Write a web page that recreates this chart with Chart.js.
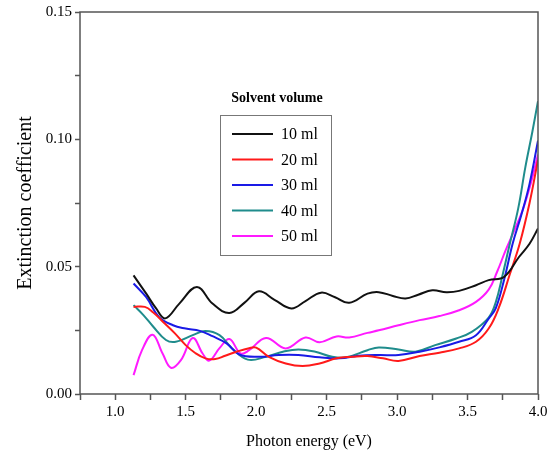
<!DOCTYPE html>
<html lang="en">
<head>
<meta charset="UTF-8">
<title>Extinction coefficient vs photon energy</title>
<script src="https://cdn.jsdelivr.net/npm/chart.js"></script>
<style>
  body { margin: 0; background: #fff; }
  #wrap { width: 556px; height: 455px; }
</style>
</head>
<body>
<div id="wrap"><canvas id="extChart"></canvas></div>
<script>
// series labels and colours
const seriesNames = ['10 ml', '20 ml', '30 ml', '40 ml', '50 ml'];
const seriesColors = ['#111111', '#ff1a1a', '#1a1ae6', '#1f8c8c', '#ff1aff'];

// 10 ml
const x10 = [1.13, 1.22, 1.29, 1.355, 1.455, 1.58, 1.69, 1.81, 1.92, 2.02, 2.13, 2.25, 2.35, 2.46, 2.56, 2.66, 2.79, 2.87, 2.97, 3.06, 3.15, 3.25, 3.35, 3.44, 3.56, 3.65, 3.76, 3.865, 3.94, 4.0];
const y10 = [0.0466, 0.0394, 0.0336, 0.0297, 0.0355, 0.042, 0.0355, 0.0318, 0.036, 0.0403, 0.037, 0.0336, 0.0365, 0.0398, 0.038, 0.0358, 0.0394, 0.040, 0.0385, 0.0375, 0.039, 0.0407, 0.040, 0.0405, 0.0427, 0.0447, 0.046, 0.0538, 0.059, 0.065];

// 20 ml
const x20 = [1.13, 1.21, 1.27, 1.34, 1.42, 1.5, 1.57, 1.64, 1.71, 1.78, 1.86, 1.95, 2.0, 2.09, 2.21, 2.33, 2.45, 2.57, 2.68, 2.79, 2.9, 3.01, 3.16, 3.3, 3.44, 3.56, 3.65, 3.72, 3.8, 3.87, 3.94, 4.0];
const y20 = [0.0342, 0.0342, 0.032, 0.0283, 0.024, 0.0192, 0.016, 0.014, 0.0137, 0.015, 0.0166, 0.018, 0.0182, 0.0146, 0.012, 0.011, 0.012, 0.014, 0.0146, 0.0149, 0.014, 0.013, 0.0149, 0.0162, 0.0179, 0.0205, 0.0257, 0.0336, 0.047, 0.059, 0.075, 0.092];

// 30 ml
const x30 = [1.13, 1.22, 1.31, 1.41, 1.5, 1.6, 1.69, 1.79, 1.88, 2.02, 2.16, 2.3, 2.45, 2.59, 2.73, 2.87, 3.01, 3.16, 3.3, 3.44, 3.56, 3.65, 3.7, 3.76, 3.82, 3.88, 3.94, 4.0];
const y30 = [0.0434, 0.038, 0.0303, 0.027, 0.0257, 0.0248, 0.0227, 0.0199, 0.0155, 0.0146, 0.0153, 0.0153, 0.0144, 0.014, 0.015, 0.0153, 0.0153, 0.0166, 0.0183, 0.0205, 0.0231, 0.0296, 0.0336, 0.045, 0.059, 0.07, 0.0825, 0.0995];

// 40 ml
const x40 = [1.13, 1.2, 1.27, 1.36, 1.43, 1.55, 1.64, 1.74, 1.83, 1.94, 2.07, 2.19, 2.3, 2.42, 2.54, 2.64, 2.79, 2.87, 3.01, 3.13, 3.27, 3.42, 3.53, 3.65, 3.7, 3.75, 3.8, 3.86, 3.91, 3.96, 4.0];
const y40 = [0.0349, 0.031, 0.0264, 0.0212, 0.0205, 0.0231, 0.0247, 0.0231, 0.0179, 0.0135, 0.0146, 0.0166, 0.0175, 0.0166, 0.0146, 0.0144, 0.0172, 0.0183, 0.0175, 0.0166, 0.0192, 0.0218, 0.0244, 0.03, 0.036, 0.047, 0.059, 0.073, 0.089, 0.103, 0.115];

// 50 ml
const x50 = [1.13, 1.19, 1.265, 1.336, 1.395, 1.466, 1.55, 1.62, 1.667, 1.74, 1.81, 1.89, 1.95, 2.07, 2.21, 2.35, 2.45, 2.57, 2.66, 2.79, 2.87, 3.01, 3.16, 3.3, 3.44, 3.56, 3.65, 3.71, 3.77, 3.83, 3.89, 3.95, 4.0];
const y50 = [0.0074, 0.0172, 0.0233, 0.0159, 0.0103, 0.0133, 0.022, 0.0159, 0.0131, 0.018, 0.0216, 0.0159, 0.0172, 0.022, 0.0179, 0.0222, 0.0203, 0.0226, 0.0222, 0.024, 0.025, 0.027, 0.029, 0.0306, 0.0329, 0.0362, 0.041, 0.048, 0.0564, 0.064, 0.072, 0.083, 0.094];

const xs = [x10, x20, x30, x40, x50];
const ys = [y10, y20, y30, y40, y50];

const serif = "'Liberation Serif', 'DejaVu Serif', serif";

// frame around the plot area
const framePlugin = {
    id: 'frame',
    afterDraw(chart) {
        const { ctx, chartArea: a } = chart;
        ctx.save();
        ctx.strokeStyle = '#555';
        ctx.lineWidth = 1.5;
        ctx.strokeRect(a.left, a.top, a.right - a.left, a.bottom - a.top);
        ctx.restore();
    }
};

// boxed legend inside the plot, with a title above it
const boxLegend = {
    id: 'boxLegend',
    afterDraw(chart) {
        const ctx = chart.ctx;
        ctx.save();
        ctx.fillStyle = '#000';
        ctx.font = 'bold 14px ' + serif;
        ctx.textAlign = 'center';
        ctx.textBaseline = 'middle';
        ctx.fillText('Solvent volume', 277, 98);

        ctx.fillStyle = '#fff';
        ctx.fillRect(220.5, 115.5, 111, 140);
        ctx.strokeStyle = '#777';
        ctx.lineWidth = 1;
        ctx.strokeRect(220.5, 115.5, 111, 140);

        ctx.font = '16px ' + serif;
        ctx.textAlign = 'left';
        chart.data.datasets.forEach((ds, i) => {
            const y = 134 + i * 25.5;
            ctx.strokeStyle = ds.borderColor;
            ctx.lineWidth = 2;
            ctx.beginPath();
            ctx.moveTo(232, y);
            ctx.lineTo(273, y);
            ctx.stroke();
            ctx.fillStyle = '#000';
            ctx.fillText(ds.label, 281, y + 1);
        });
        ctx.restore();
    }
};

const datasets = seriesNames.map((name, i) => ({
    label: name,
    data: xs[i].map((x, j) => ({ x: x, y: ys[i][j] })),
    borderColor: seriesColors[i],
    backgroundColor: seriesColors[i],
    borderWidth: 2,
    pointRadius: 0,
    tension: 0.4,
    fill: false
}));

const chart = new Chart(document.getElementById('extChart'), {
    type: 'line',
    data: { datasets: datasets },
    options: {
        responsive: true,
        maintainAspectRatio: false,
        animation: false,
        layout: { padding: { top: 11, right: 18, bottom: 0, left: 0 } },
        plugins: {
            legend: { display: false },
            tooltip: { enabled: false }
        },
        scales: {
            x: {
                type: 'linear',
                min: 0.75,
                max: 4.0,
                afterFit: s => { s.height = 61; },
                border: { display: false },
                grid: { drawOnChartArea: false, tickLength: 6, tickColor: '#555', tickWidth: 1.5 },
                ticks: {
                    stepSize: 0.25,
                    color: '#000',
                    padding: 3,
                    font: { family: serif, size: 15 },
                    callback: v => (Math.abs(v * 2 - Math.round(v * 2)) < 1e-6 ? v.toFixed(1) : '')
                },
                title: {
                    display: true,
                    text: 'Photon energy (eV)',
                    color: '#000',
                    font: { family: serif, size: 16 },
                    padding: { top: 1 }
                }
            },
            y: {
                min: 0,
                max: 0.15,
                afterFit: s => { s.width = 80; },
                border: { display: false },
                grid: { drawOnChartArea: false, tickLength: 5, tickColor: '#555', tickWidth: 1.5 },
                ticks: {
                    stepSize: 0.025,
                    color: '#000',
                    padding: 3,
                    font: { family: serif, size: 15 },
                    callback: v => (Math.abs(v * 20 - Math.round(v * 20)) < 1e-6 ? v.toFixed(2) : '')
                },
                title: {
                    display: true,
                    text: 'Extinction coefficient',
                    color: '#000',
                    font: { family: serif, size: 20 },
                    padding: { top: 14, bottom: 0 }
                }
            }
        }
    },
    plugins: [framePlugin, boxLegend]
});
</script>
</body>
</html>
